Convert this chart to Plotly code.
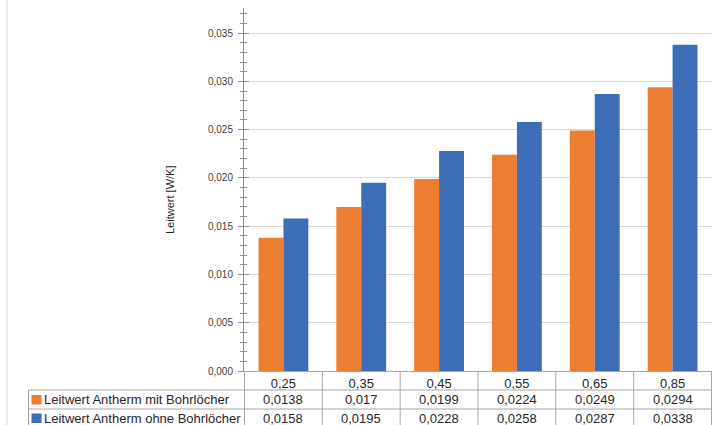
import plotly.graph_objects as go

# Data
categories = [0.25, 0.35, 0.45, 0.55, 0.65, 0.85]
mit_bohrloecher = [0.0138, 0.017, 0.0199, 0.0224, 0.0249, 0.0294]
ohne_bohrloecher = [0.0158, 0.0195, 0.0228, 0.0258, 0.0287, 0.0338]
series_names = ["Leitwert Antherm mit Bohrlöcher", "Leitwert Antherm ohne Bohrlöcher"]
y_title = "Leitwert [W/K]"

ORANGE = "#ED7D31"
BLUE = "#3E6DB8"
LINE = "#A6A6A6"
TEXT = "#262626"

W, H = 712, 425
ML, MR, MT, MB = 244, 0, 8, 54
PW, PH = W - ML - MR, H - MT - MB


def de(v):
    return str(v).replace(".", ",")


def px_x(p):
    return (p - ML) / PW


def px_y(p):
    return (H - MB - p) / PH


labels = [de(c) for c in categories]

fig = go.Figure()
fig.add_bar(x=labels, y=mit_bohrloecher, name=series_names[0], marker_color=ORANGE,
            marker_line_width=0)
fig.add_bar(x=labels, y=ohne_bohrloecher, name=series_names[1], marker_color=BLUE,
            marker_line_width=0)
# helper trace so the inner tick axis is drawn
fig.add_scatter(x=[labels[0]], y=[0], yaxis="y2", mode="markers",
                marker=dict(opacity=0), showlegend=False, hoverinfo="skip")

shapes = []
row_lines = [390, 409]
bottom = 427
# horizontal table lines
for r in row_lines:
    shapes.append(dict(type="line", xref="paper", yref="paper", x0=px_x(28.5), x1=1,
                       y0=px_y(r), y1=px_y(r), line=dict(color=LINE, width=1)))
shapes.append(dict(type="line", xref="paper", yref="paper", x0=px_x(28.5), x1=1,
                   y0=px_y(bottom), y1=px_y(bottom), line=dict(color=LINE, width=1)))
# vertical table lines at category boundaries
for i in range(len(labels) + 1):
    shapes.append(dict(type="line", xref="x", yref="paper", x0=i - 0.5, x1=i - 0.5,
                       y0=0, y1=px_y(bottom), line=dict(color=LINE, width=1)))
# left edge of the series-name column
shapes.append(dict(type="line", xref="paper", yref="paper", x0=px_x(28.5), x1=px_x(28.5),
                   y0=px_y(row_lines[0]), y1=px_y(bottom), line=dict(color=LINE, width=1)))
# outer frame line on the left
shapes.append(dict(type="line", xref="paper", yref="paper", x0=px_x(7), x1=px_x(7),
                   y0=px_y(0), y1=px_y(H), line=dict(color="#D9D9D9", width=1)))
# legend keys
row_centers = [399.5, 418]
for color, rc in zip([ORANGE, BLUE], row_centers):
    shapes.append(dict(type="rect", xref="paper", yref="paper",
                       x0=px_x(31.5), x1=px_x(41.5), y0=px_y(rc + 5), y1=px_y(rc - 4.5),
                       fillcolor=color, line=dict(width=0)))

annotations = []
for name, rc in zip(series_names, row_centers):
    annotations.append(dict(text=name, xref="paper", yref="paper", x=px_x(41.5), y=px_y(rc),
                            xanchor="left", yanchor="middle", showarrow=False,
                            font=dict(size=13, color=TEXT)))
for vals, rc in zip([mit_bohrloecher, ohne_bohrloecher], row_centers):
    for lab, v in zip(labels, vals):
        annotations.append(dict(text=de(v), xref="x", yref="paper", x=lab, y=px_y(rc),
                                xanchor="center", yanchor="middle", showarrow=False,
                                font=dict(size=13, color=TEXT)))
annotations.append(dict(text=y_title, xref="paper", yref="paper", x=px_x(170), y=px_y(200),
                        textangle=-90, xanchor="center", yanchor="middle", showarrow=False,
                        font=dict(size=11, color=TEXT)))

fig.update_layout(
    width=W, height=H,
    margin=dict(l=ML, r=MR, t=MT, b=MB),
    paper_bgcolor="white", plot_bgcolor="white",
    font=dict(family="Liberation Sans, Arial, sans-serif", color=TEXT),
    separators=", ",
    barmode="group", bargap=0.36, bargroupgap=0,
    showlegend=False,
    shapes=shapes, annotations=annotations,
    xaxis=dict(type="category", showline=True, linecolor=LINE, linewidth=1,
               ticks="", showgrid=False, tickfont=dict(size=13, color=TEXT),
               ticklabelstandoff=0),
    yaxis=dict(range=[0, 0.0376], dtick=0.005, tick0=0, tickformat=".3f",
               showline=True, linecolor="#8C8C8C", linewidth=1,
               ticks="outside", ticklen=5, tickcolor="#8C8C8C",
               showgrid=True, gridcolor="#D9D9D9", gridwidth=1,
               zeroline=False, tickfont=dict(size=10, color="#404040"),
               ticklabelstandoff=3,
               minor=dict(dtick=0.001, ticks="outside", ticklen=3, tickcolor="#8C8C8C",
                          showgrid=False)),
    yaxis2=dict(overlaying="y", matches="y", side="left", anchor="x",
                showticklabels=False, showgrid=False, showline=False, zeroline=False,
                ticks="inside", ticklen=5, tickcolor="#8C8C8C", dtick=0.005, tick0=0,
                minor=dict(dtick=0.001, ticks="inside", ticklen=3, tickcolor="#8C8C8C",
                           showgrid=False)),
)

fig.write_html("out.html")
